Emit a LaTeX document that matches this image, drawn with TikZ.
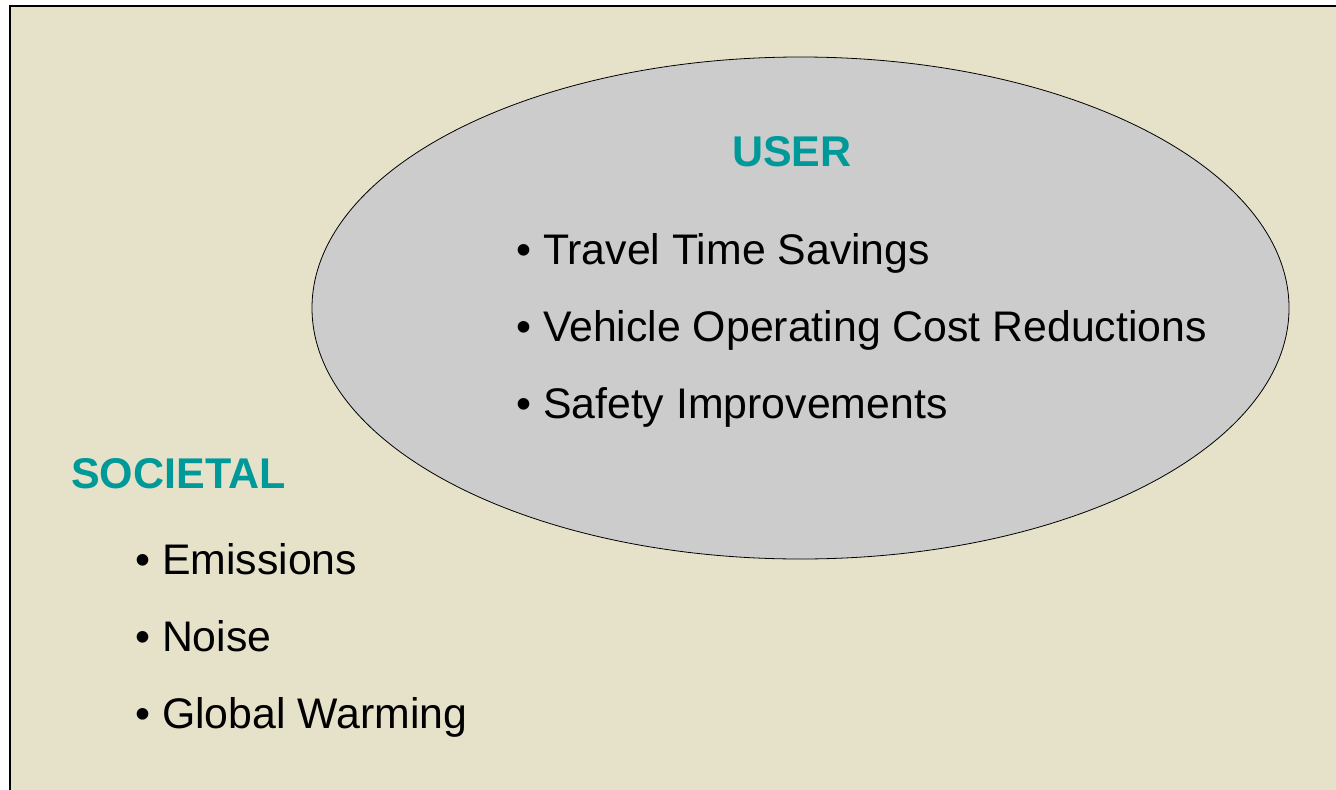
\documentclass[tikz,border=0pt]{standalone}
\usepackage{fontspec}
\setmainfont{Liberation Sans}
\usetikzlibrary{positioning}
\usetikzlibrary{shapes.geometric}

\definecolor{paper}{HTML}{E6E2C9}
\definecolor{oval}{HTML}{CCCCCC}
\definecolor{headteal}{HTML}{009999}

\begin{document}
\begin{tikzpicture}[x=1bp,y=-1bp,node distance=36bp]
\tikzstyle{head}=[anchor=base west,inner sep=0,text=headteal,font=\fontsize{43bp}{52bp}\selectfont\bfseries]
\tikzstyle{item}=[inner sep=0,text height=32bp,text depth=9bp,font=\fontsize{42.8bp}{51bp}\selectfont]
\useasboundingbox (0,0) rectangle (1336,789);
\clip (0,0) rectangle (1336,789);
% slide background
\draw[fill=paper,line width=2bp] (10,6) rectangle (1350,800);
% user benefits
\node[draw,ellipse,fill=oval,inner sep=0,line width=0.8bp,
      minimum width=977bp,minimum height=502bp]	(user)	at (800.5,308)	{};
\node[head]	(userhd)	at (732,166)		{USER};
\node[item,anchor=base west]	(u1)	at (516,264)	{•~Travel Time Savings};
\node[item]	(u2)	[below right=36bp and 0pt of u1.south west]	{•~Vehicle Operating Cost Reductions};
\node[item]	(u3)	[below right=36bp and 0pt of u2.south west]	{•~Safety Improvements};
% societal benefits
\node[head]	(sochd)	at (71,488)		{SOCIETAL};
\node[item,anchor=base west]	(s1)	at (135,574)	{•~Emissions};
\node[item]	(s2)	[below right=36bp and 0pt of s1.south west]	{•~Noise};
\node[item]	(s3)	[below right=36bp and 0pt of s2.south west]	{•~Global Warming};
\end{tikzpicture}
\end{document}
